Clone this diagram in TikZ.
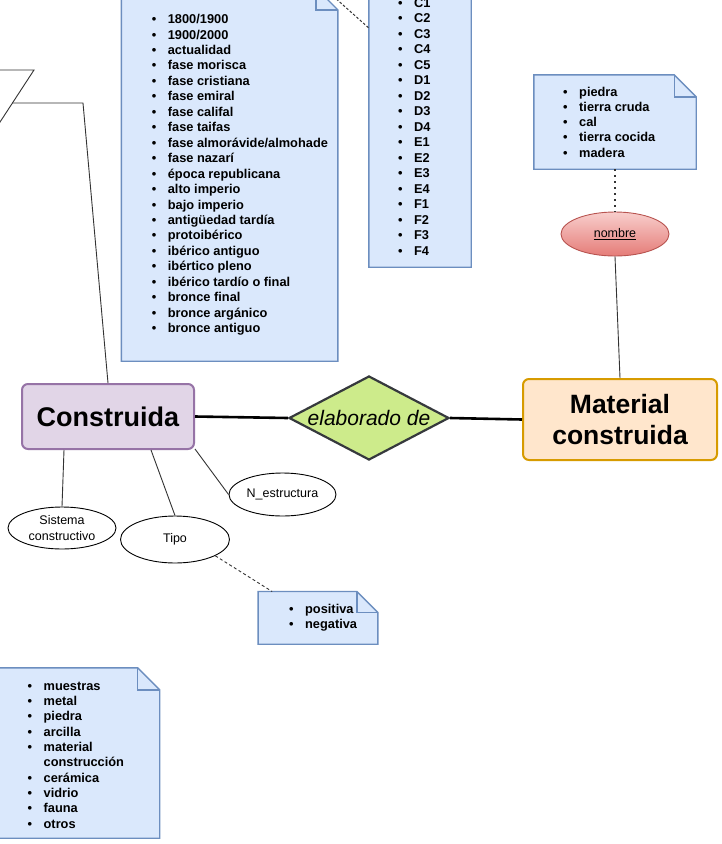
\documentclass[tikz,border=0pt]{standalone}
\usepackage{fontspec}
\setmainfont{Liberation Sans}
\usetikzlibrary{shapes.geometric}
\definecolor{notefill}{HTML}{DAE8FC}
\definecolor{notedraw}{HTML}{6C8EBF}
\definecolor{confill}{HTML}{E1D5E7}
\definecolor{condraw}{HTML}{9673A6}
\definecolor{matfill}{HTML}{FFE6CC}
\definecolor{matdraw}{HTML}{D79B00}
\definecolor{diafill}{HTML}{CDEB8B}
\definecolor{diadraw}{HTML}{36393D}
\definecolor{nomtop}{HTML}{F8CECC}
\definecolor{nombot}{HTML}{E57C78}
\definecolor{nomdraw}{HTML}{B85450}
\definecolor{linecol}{HTML}{333333}
\newcommand\bl[1]{\textbullet & #1\\}
\newcommand\notelist[2]{\fontsize{12.8}{#1}\selectfont\bfseries\begin{tabular}[t]{@{}l@{\hspace{11.5pt}}l@{}}#2\end{tabular}}
\newcommand\notedraw[2]{% #1 node name, #2 fold size
  \draw[notestyle] (#1.north west) -- ([xshift=-#2pt]#1.north east) -- ([yshift=-#2pt]#1.north east) -- (#1.south east) -- (#1.south west) -- cycle;
  \draw[notestyle,fill=none] ([xshift=-#2pt]#1.north east) -- ([xshift=-#2pt,yshift=-#2pt]#1.north east) -- ([yshift=-#2pt]#1.north east);}
\begin{document}
\begin{tikzpicture}[x=1pt,y=-1pt,
  notestyle/.style={draw=notedraw,fill=notefill,line width=1.4pt,line join=miter},
  notearea/.style={rectangle,inner sep=0,minimum width=#1},
  listtext/.style={anchor=base west,inner sep=0},
  attr/.style={ellipse,draw=black,fill=white,line width=0.9pt,inner sep=0,align=center,font=\fontsize{12.5}{15.7}\selectfont},
  thinline/.style={draw=linecol,line width=0.9pt},
  thickline/.style={draw=black,line width=2.6pt}]
\useasboundingbox (0,0) rectangle (722,844);
\fill[white] (0,0) rectangle (722,844);

% top-left parallelogram (partly outside)
\draw[linecol,line width=0.9pt] (-80,70) -- (34,70) -- (-20,152.7);
\coordinate (pg) at (12.4,103);

% notes
\node[notearea=216,minimum height=373] (big) at (229.6,174.5) {};
\notedraw{big}{22}
\node[listtext] (bigtxt) at (151.7,23.6) {\notelist{15.45}{%
\bl{1800/1900}\bl{1900/2000}\bl{actualidad}\bl{fase morisca}\bl{fase cristiana}\bl{fase emiral}\bl{fase califal}\bl{fase taifas}\bl{fase almorávide/almohade}\bl{fase nazarí}\bl{época republicana}\bl{alto imperio}\bl{bajo imperio}\bl{antigüedad tardía}\bl{protoibérico}\bl{ibérico antiguo}\bl{ibértico pleno}\bl{ibérico tardío o final}\bl{bronce final}\bl{bronce argánico}\bl{bronce antiguo}}};

\node[notearea=102,minimum height=307] (cn) at (420,113.5) {};
\notedraw{cn}{22}
\node[listtext] (cntxt) at (398,7.2) {\notelist{15.49}{%
\bl{C1}\bl{C2}\bl{C3}\bl{C4}\bl{C5}\bl{D1}\bl{D2}\bl{D3}\bl{D4}\bl{E1}\bl{E2}\bl{E3}\bl{E4}\bl{F1}\bl{F2}\bl{F3}\bl{F4}}};

\node[notearea=162,minimum height=94] (mn) at (615,122) {};
\notedraw{mn}{22}
\node[listtext] (mntxt) at (563,96) {\notelist{15.3}{%
\bl{piedra}\bl{tierra cruda}\bl{cal}\bl{tierra cocida}\bl{madera}}};

\node[notearea=119.4,minimum height=52.3] (pn) at (318,617.85) {};
\notedraw{pn}{21}
\node[listtext] (pntxt) at (289,613.5) {\notelist{14.6}{%
\bl{positiva}\bl{negativa}}};

\node[notearea=219,minimum height=170] (bn) at (50,753) {};
\notedraw{bn}{22}
\node[listtext] (bntxt) at (27.5,690) {\notelist{15.37}{%
\bl{muestras}\bl{metal}\bl{piedra}\bl{arcilla}\bl{material}& construcción\\\bl{cerámica}\bl{vidrio}\bl{fauna}\bl{otros}}};

% main shapes
\node[rectangle,rounded corners=6pt,draw=condraw,fill=confill,line width=2pt,minimum width=172,minimum height=65,inner sep=0,font=\fontsize{27}{31}\selectfont\bfseries] (con) at (108,416.5) {Construida};
\node[diamond,draw=diadraw,fill=diafill,line width=2.2pt,minimum width=160,minimum height=84,inner sep=0,font=\fontsize{21}{25}\selectfont\itshape] (dia) at (369,418) {};
\node[font=\fontsize{21}{25}\selectfont\itshape,inner sep=0] (dialabel) at (369,418) {elaborado de};
\node[rectangle,rounded corners=6pt,draw=matdraw,fill=matfill,line width=2pt,minimum width=194,minimum height=81,inner sep=0,align=center,font=\fontsize{26.5}{31}\selectfont\bfseries] (mat) at (620,419.5) {Material\\construida};
\node[ellipse,draw=nomdraw,top color=nomtop,bottom color=nombot,line width=0.9pt,minimum width=108,minimum height=44,inner sep=0,font=\fontsize{12.5}{15}\selectfont] (nom) at (615,234) {\underline{nombre}};

\node[attr,minimum width=108,minimum height=42] (sis) at (62,528) {Sistema\\constructivo};
\node[attr,minimum width=109,minimum height=47] (tipo) at (175,539.5) {Tipo};
\node[attr,minimum width=107,minimum height=43] (nest) at (282.5,494.5) {N\_estructura};

% connectors
\coordinate (bigout) at (333,-4);
\draw[linecol,line width=1pt,dash pattern=on 2.5pt off 2pt] (bigout) -- (cn.west |- 0,28);
\draw[thinline] (pg) -- (83,103) -- (con.north);
\draw[thickline] (con.east) -- (dia.west);
\draw[thickline] (dia.east) -- (mat.west);
\draw[linecol,line width=1.6pt,dash pattern=on 1.6pt off 4.4pt] (mn.south) -- (nom.north);
\draw[thinline] (nom.south) -- (mat.north);
\draw[thinline] ([xshift=43pt]con.south west) -- (sis.north);
\draw[thinline] ([xshift=130pt]con.south west) -- (tipo.north);
\draw[thinline] ([yshift=1pt]con.south east) -- (nest.west);
\draw[linecol,line width=0.9pt,dash pattern=on 3pt off 2.5pt] (tipo.-22) -- ([xshift=14pt]pn.north west);
\end{tikzpicture}
\end{document}
